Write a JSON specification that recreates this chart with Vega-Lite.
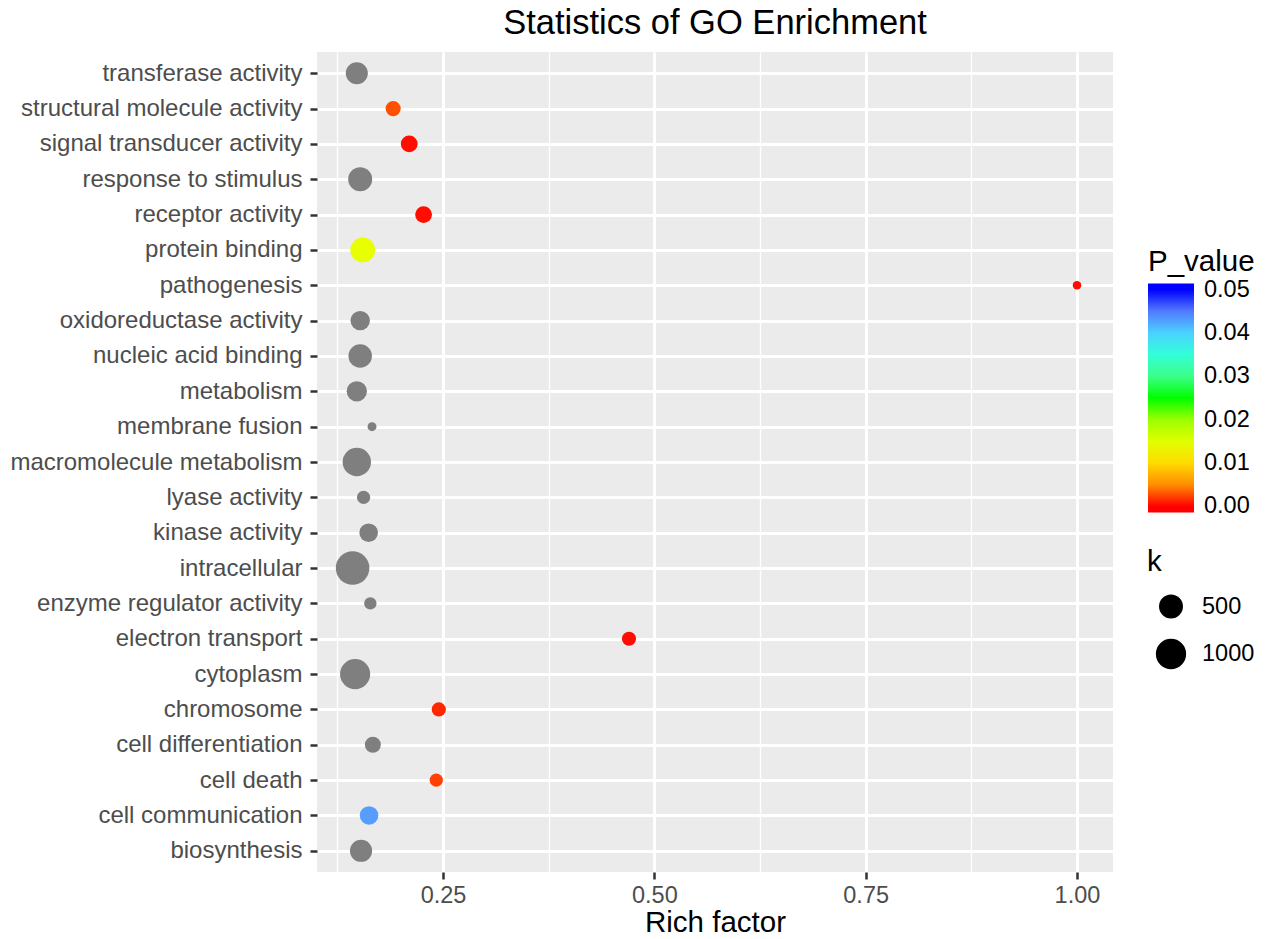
{
  "$schema": "https://vega.github.io/schema/vega-lite/v6.json",
  "autosize": {"type": "none"},
  "width": 796,
  "height": 820,
  "padding": {"left": 317, "top": 52, "right": 157, "bottom": 67},
  "background": "white",
  "title": {
    "text": "Statistics of GO Enrichment",
    "font": "Liberation Sans",
    "fontSize": 34.5,
    "fontWeight": "normal",
    "color": "black",
    "anchor": "middle",
    "offset": 11
  },
  "data": {
    "values": [
      {"term": "transferase activity", "rich_factor": 0.148, "k": 390, "P_value": null},
      {"term": "structural molecule activity", "rich_factor": 0.191, "k": 110, "P_value": 0.0018},
      {"term": "signal transducer activity", "rich_factor": 0.210, "k": 160, "P_value": 0.0001},
      {"term": "response to stimulus", "rich_factor": 0.152, "k": 500, "P_value": null},
      {"term": "receptor activity", "rich_factor": 0.227, "k": 160, "P_value": 0.0001},
      {"term": "protein binding", "rich_factor": 0.155, "k": 560, "P_value": 0.0145},
      {"term": "pathogenesis", "rich_factor": 1.0, "k": 2, "P_value": 0.0001},
      {"term": "oxidoreductase activity", "rich_factor": 0.152, "k": 260, "P_value": null},
      {"term": "nucleic acid binding", "rich_factor": 0.152, "k": 470, "P_value": null},
      {"term": "metabolism", "rich_factor": 0.148, "k": 300, "P_value": null},
      {"term": "membrane fusion", "rich_factor": 0.166, "k": 5, "P_value": null},
      {"term": "macromolecule metabolism", "rich_factor": 0.148, "k": 830, "P_value": null},
      {"term": "lyase activity", "rich_factor": 0.156, "k": 65, "P_value": null},
      {"term": "kinase activity", "rich_factor": 0.162, "k": 225, "P_value": null},
      {"term": "intracellular", "rich_factor": 0.143, "k": 1350, "P_value": null},
      {"term": "enzyme regulator activity", "rich_factor": 0.164, "k": 48, "P_value": null},
      {"term": "electron transport", "rich_factor": 0.470, "k": 85, "P_value": 0.0001},
      {"term": "cytoplasm", "rich_factor": 0.146, "k": 990, "P_value": null},
      {"term": "chromosome", "rich_factor": 0.245, "k": 85, "P_value": 0.0005},
      {"term": "cell differentiation", "rich_factor": 0.167, "k": 132, "P_value": null},
      {"term": "cell death", "rich_factor": 0.242, "k": 65, "P_value": 0.0012},
      {"term": "cell communication", "rich_factor": 0.1625, "k": 225, "P_value": 0.043},
      {"term": "biosynthesis", "rich_factor": 0.153, "k": 393, "P_value": null}
    ]
  },
  "encoding": {
    "y": {
      "field": "term",
      "type": "nominal",
      "sort": {"field": "term", "order": "descending"},
      "scale": {"type": "point", "padding": 0.6},
      "title": null,
      "axis": {
        "grid": true,
        "gridColor": "white",
        "gridWidth": 3,
        "domain": false,
        "ticks": true,
        "tickColor": "#333333",
        "tickWidth": 2.5,
        "tickSize": 7,
        "labelFont": "Liberation Sans",
        "labelFontSize": 24,
        "labelColor": "#4D4D4D",
        "labelPadding": 8,
        "labelLimit": 400
      }
    },
    "size": {
      "field": "k",
      "type": "quantitative",
      "scale": {"type": "pow", "exponent": 0.74, "domain": [0, 1360], "range": [63.6, 1134], "zero": false, "nice": false},
      "legend": {
        "orient": "none",
        "legendX": 830,
        "legendY": 496,
        "values": [500, 1000],
        "format": "d",
        "title": "k",
        "titlePadding": 16,
        "rowPadding": 13.5,
        "labelOffset": 15,
        "symbolOffset": 8,
        "encode": {
          "symbols": {
            "fill": {"value": "black"},
            "fillOpacity": {"value": 1},
            "opacity": {"value": 1}
          }
        }
      }
    }
  },
  "layer": [
    {
      "transform": [{"filter": "datum.P_value != null"}],
      "mark": {"type": "circle", "opacity": 1},
      "encoding": {
        "x": {
          "field": "rich_factor",
          "type": "quantitative",
          "title": "Rich factor",
          "scale": {"domain": [0.1009, 1.0426], "nice": false, "zero": false},
          "axis": {
            "orient": "bottom",
            "values": [0.25, 0.5, 0.75, 1.0],
            "format": ".2f",
            "grid": true,
            "gridColor": "white",
            "gridWidth": 3,
            "domain": false,
            "tickColor": "#333333",
            "tickWidth": 2.5,
            "tickSize": 7,
            "labelFont": "Liberation Sans",
            "labelFontSize": 23.5,
            "labelColor": "#4D4D4D",
            "labelPadding": 4,
            "titleFont": "Liberation Sans",
            "titleFontSize": 29.5,
            "titleFontWeight": "normal",
            "titleColor": "black",
            "titlePadding": 2
          }
        },
        "color": {
          "field": "P_value",
          "type": "quantitative",
          "scale": {
            "domain": [-0.0014, 0, 0.0125, 0.025, 0.0375, 0.05, 0.0514],
            "range": ["#FF0000", "#FF0000", "#FFFF00", "#00FF00", "#00FFFF", "#0000FF", "#0000FF"],
            "interpolate": "lab",
            "nice": false,
            "zero": false
          },
          "legend": {
            "orient": "none",
            "legendX": 831,
            "legendY": 196,
            "title": "P_value",
            "titlePadding": 6,
            "values": [0, 0.01, 0.02, 0.03, 0.04, 0.05],
            "format": ".2f",
            "gradientLength": 229,
            "gradientThickness": 46,
            "gradientStrokeWidth": 0,
            "labelOffset": 10,
            "labelOverlap": false
          }
        }
      }
    },
    {
      "transform": [{"filter": "datum.P_value == null"}],
      "mark": {"type": "circle", "opacity": 1, "color": "#7F7F7F"},
      "encoding": {
        "x": {
          "field": "rich_factor",
          "type": "quantitative",
          "axis": {
            "orient": "top",
            "values": [0.125, 0.375, 0.625, 0.875],
            "grid": true,
            "gridColor": "white",
            "gridWidth": 1.3,
            "labels": false,
            "ticks": false,
            "domain": false,
            "title": null
          }
        }
      }
    }
  ],
  "resolve": {"axis": {"x": "independent"}},
  "config": {
    "view": {"fill": "#EBEBEB", "stroke": null},
    "legend": {
      "titleFont": "Liberation Sans",
      "titleFontSize": 29.5,
      "titleFontWeight": "normal",
      "titleColor": "black",
      "labelFont": "Liberation Sans",
      "labelFontSize": 23.5,
      "labelColor": "black",
      "symbolBaseFillColor": "black"
    }
  }
}
